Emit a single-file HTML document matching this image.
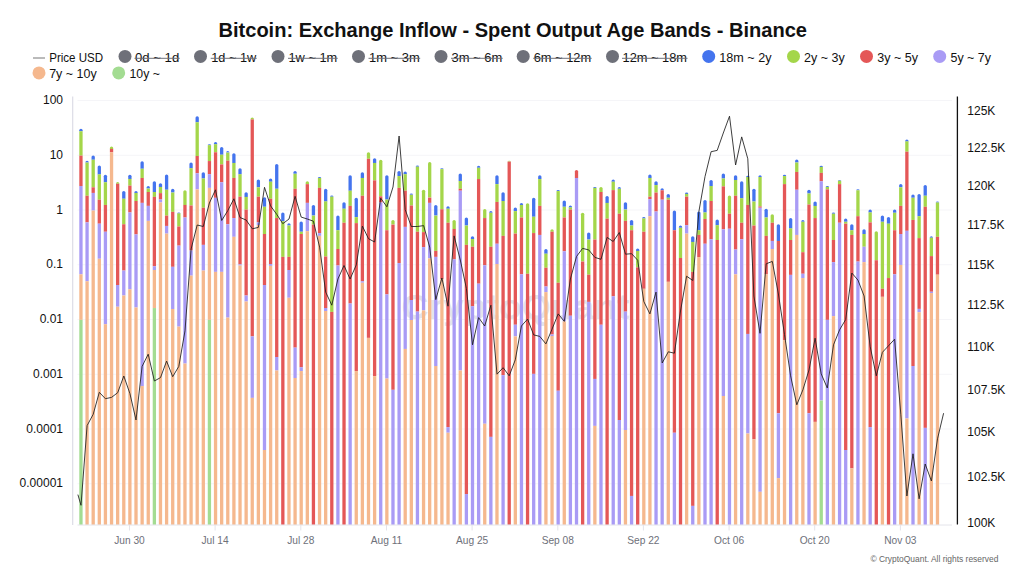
<!DOCTYPE html>
<html><head><meta charset="utf-8"><title>Bitcoin: Exchange Inflow - Spent Output Age Bands - Binance</title>
<style>
html,body{margin:0;padding:0;background:#fff;}
body{width:1024px;height:576px;overflow:hidden;font-family:"Liberation Sans",sans-serif;}
svg{display:block;}
text{font-family:"Liberation Sans",sans-serif;}
.ax{font-size:12px;fill:#111;}
.xl{font-size:10.2px;fill:#6e7079;}
.lg{font-size:12px;fill:#111;}
.ttl{font-size:20px;font-weight:bold;fill:#111;}
.cp{font-size:8.6px;fill:#666;}
</style></head><body>
<svg width="1024" height="576" viewBox="0 0 1024 576">
<rect width="1024" height="576" fill="#fff"/>
<text x="218.5" y="36.8" class="ttl" textLength="588.5" lengthAdjust="spacingAndGlyphs">Bitcoin: Exchange Inflow - Spent Output Age Bands - Binance</text>
<line x1="33" x2="45" y1="58" y2="58" stroke="#777" stroke-width="1"/>
<text x="49.2" y="61.8" class="lg" textLength="54" lengthAdjust="spacingAndGlyphs">Price USD</text>
<circle cx="125" cy="56.4" r="6.5" fill="#6e7079"/>
<text x="135" y="61.8" class="lg" fill="#6e7079" textLength="44.2" lengthAdjust="spacingAndGlyphs">0d ~ 1d</text>
<line x1="134.5" x2="179.7" y1="58.3" y2="58.3" stroke="#6e7079" stroke-width="1"/>
<circle cx="200.5" cy="56.4" r="6.5" fill="#6e7079"/>
<text x="211.2" y="61.8" class="lg" fill="#6e7079" textLength="45.0" lengthAdjust="spacingAndGlyphs">1d ~ 1w</text>
<line x1="210.7" x2="256.7" y1="58.3" y2="58.3" stroke="#6e7079" stroke-width="1"/>
<circle cx="278" cy="56.4" r="6.5" fill="#6e7079"/>
<text x="288.5" y="61.8" class="lg" fill="#6e7079" textLength="48.7" lengthAdjust="spacingAndGlyphs">1w ~ 1m</text>
<line x1="288.0" x2="337.7" y1="58.3" y2="58.3" stroke="#6e7079" stroke-width="1"/>
<circle cx="358.5" cy="56.4" r="6.5" fill="#6e7079"/>
<text x="369" y="61.8" class="lg" fill="#6e7079" textLength="50.7" lengthAdjust="spacingAndGlyphs">1m ~ 3m</text>
<line x1="368.5" x2="420.2" y1="58.3" y2="58.3" stroke="#6e7079" stroke-width="1"/>
<circle cx="441" cy="56.4" r="6.5" fill="#6e7079"/>
<text x="451.5" y="61.8" class="lg" fill="#6e7079" textLength="50.7" lengthAdjust="spacingAndGlyphs">3m ~ 6m</text>
<line x1="451.0" x2="502.7" y1="58.3" y2="58.3" stroke="#6e7079" stroke-width="1"/>
<circle cx="523.2" cy="56.4" r="6.5" fill="#6e7079"/>
<text x="533.7" y="61.8" class="lg" fill="#6e7079" textLength="57.5" lengthAdjust="spacingAndGlyphs">6m ~ 12m</text>
<line x1="533.2" x2="591.7" y1="58.3" y2="58.3" stroke="#6e7079" stroke-width="1"/>
<circle cx="612.5" cy="56.4" r="6.5" fill="#6e7079"/>
<text x="622.5" y="61.8" class="lg" fill="#6e7079" textLength="64.5" lengthAdjust="spacingAndGlyphs">12m ~ 18m</text>
<line x1="622.0" x2="687.5" y1="58.3" y2="58.3" stroke="#6e7079" stroke-width="1"/>
<circle cx="708.7" cy="56.4" r="6.5" fill="#4474ee"/>
<text x="719.3" y="61.8" class="lg" textLength="52.2" lengthAdjust="spacingAndGlyphs">18m ~ 2y</text>
<circle cx="793.5" cy="56.4" r="6.5" fill="#a4d64a"/>
<text x="804" y="61.8" class="lg" textLength="40.7" lengthAdjust="spacingAndGlyphs">2y ~ 3y</text>
<circle cx="866.5" cy="56.4" r="6.5" fill="#e45757"/>
<text x="877.2" y="61.8" class="lg" textLength="40.8" lengthAdjust="spacingAndGlyphs">3y ~ 5y</text>
<circle cx="939.7" cy="56.4" r="6.5" fill="#a99bf5"/>
<text x="950.5" y="61.8" class="lg" textLength="40.5" lengthAdjust="spacingAndGlyphs">5y ~ 7y</text>
<circle cx="39" cy="72.9" r="6.5" fill="#f5b88e"/>
<text x="49.2" y="78.3" class="lg" textLength="47.5" lengthAdjust="spacingAndGlyphs">7y ~ 10y</text>
<circle cx="118.7" cy="72.9" r="6.5" fill="#a3dc92"/>
<text x="129.5" y="78.3" class="lg" textLength="30.5" lengthAdjust="spacingAndGlyphs">10y ~</text>
<line x1="77.5" x2="952" y1="100.50" y2="100.50" stroke="#f5f5f8" stroke-width="1"/>
<line x1="77.5" x2="952" y1="155.25" y2="155.25" stroke="#f5f5f8" stroke-width="1"/>
<line x1="77.5" x2="952" y1="210.00" y2="210.00" stroke="#f5f5f8" stroke-width="1"/>
<line x1="77.5" x2="952" y1="264.75" y2="264.75" stroke="#f5f5f8" stroke-width="1"/>
<line x1="77.5" x2="952" y1="319.50" y2="319.50" stroke="#f5f5f8" stroke-width="1"/>
<line x1="77.5" x2="952" y1="374.25" y2="374.25" stroke="#f5f5f8" stroke-width="1"/>
<line x1="77.5" x2="952" y1="429.00" y2="429.00" stroke="#f5f5f8" stroke-width="1"/>
<line x1="77.5" x2="952" y1="483.75" y2="483.75" stroke="#f5f5f8" stroke-width="1"/>
<text x="401.5" y="318.8" textLength="228" lengthAdjust="spacingAndGlyphs" style="font-size:35px;font-weight:bold" fill="#e3e4eb">CryptoQuant</text>
<path d="M79.30,131.25V130.31Q79.30,128.81 80.95,128.81Q82.60,128.81 82.60,130.31V131.25Z" fill="#4474ee"/>
<rect x="79.30" y="131.25" width="3.3" height="24.38" fill="#a4d64a"/>
<rect x="79.30" y="155.62" width="3.3" height="30.38" fill="#e45757"/>
<rect x="79.30" y="186.00" width="3.3" height="88.31" fill="#a99bf5"/>
<rect x="79.30" y="274.31" width="3.3" height="45.56" fill="#f5b88e"/>
<rect x="79.30" y="319.88" width="3.3" height="205.02" fill="#a3dc92"/>
<path d="M85.42,162.56V162.19Q85.42,160.69 87.07,160.69Q88.72,160.69 88.72,162.19V162.56Z" fill="#4474ee"/>
<rect x="85.42" y="162.56" width="3.3" height="33.19" fill="#a4d64a"/>
<rect x="85.42" y="195.75" width="3.3" height="26.62" fill="#e45757"/>
<rect x="85.42" y="222.38" width="3.3" height="58.88" fill="#a99bf5"/>
<rect x="85.42" y="281.25" width="3.3" height="243.65" fill="#f5b88e"/>
<path d="M91.54,159.75V157.12Q91.54,155.62 93.19,155.62Q94.84,155.62 94.84,157.12V159.75Z" fill="#4474ee"/>
<rect x="91.54" y="159.75" width="3.3" height="27.56" fill="#a4d64a"/>
<rect x="91.54" y="187.31" width="3.3" height="5.62" fill="#e45757"/>
<rect x="91.54" y="192.94" width="3.3" height="17.62" fill="#a99bf5"/>
<rect x="91.54" y="210.56" width="3.3" height="314.34" fill="#f5b88e"/>
<path d="M97.65,174.38V166.88Q97.65,165.38 99.30,165.38Q100.95,165.38 100.95,166.88V174.38Z" fill="#4474ee"/>
<rect x="97.65" y="174.38" width="3.3" height="25.31" fill="#a4d64a"/>
<rect x="97.65" y="199.69" width="3.3" height="24.00" fill="#e45757"/>
<rect x="97.65" y="223.69" width="3.3" height="35.06" fill="#a99bf5"/>
<rect x="97.65" y="258.75" width="3.3" height="266.15" fill="#f5b88e"/>
<path d="M103.77,182.25V176.25Q103.77,174.75 105.42,174.75Q107.07,174.75 107.07,176.25V182.25Z" fill="#4474ee"/>
<rect x="103.77" y="182.25" width="3.3" height="22.69" fill="#a4d64a"/>
<rect x="103.77" y="204.94" width="3.3" height="26.81" fill="#e45757"/>
<rect x="103.77" y="231.75" width="3.3" height="92.44" fill="#a99bf5"/>
<rect x="103.77" y="324.19" width="3.3" height="200.71" fill="#f5b88e"/>
<path d="M109.89,148.88V148.12Q109.89,146.62 111.54,146.62Q113.19,146.62 113.19,148.12V148.88Z" fill="#a4d64a"/>
<rect x="109.89" y="148.88" width="3.3" height="3.38" fill="#e45757"/>
<rect x="109.89" y="152.25" width="3.3" height="372.65" fill="#f5b88e"/>
<path d="M116.01,183.75V183.38Q116.01,181.88 117.66,181.88Q119.31,181.88 119.31,183.38V183.75Z" fill="#a4d64a"/>
<rect x="116.01" y="183.75" width="3.3" height="101.25" fill="#e45757"/>
<rect x="116.01" y="285.00" width="3.3" height="21.75" fill="#a99bf5"/>
<rect x="116.01" y="306.75" width="3.3" height="218.15" fill="#f5b88e"/>
<path d="M122.13,198.75V192.56Q122.13,191.06 123.78,191.06Q125.43,191.06 125.43,192.56V198.75Z" fill="#4474ee"/>
<rect x="122.13" y="198.75" width="3.3" height="25.50" fill="#a4d64a"/>
<rect x="122.13" y="224.25" width="3.3" height="46.31" fill="#e45757"/>
<rect x="122.13" y="270.56" width="3.3" height="24.94" fill="#a99bf5"/>
<rect x="122.13" y="295.50" width="3.3" height="229.40" fill="#f5b88e"/>
<path d="M128.24,178.88V176.25Q128.24,174.75 129.89,174.75Q131.54,174.75 131.54,176.25V178.88Z" fill="#4474ee"/>
<rect x="128.24" y="178.88" width="3.3" height="6.75" fill="#a4d64a"/>
<rect x="128.24" y="185.62" width="3.3" height="26.81" fill="#e45757"/>
<rect x="128.24" y="212.44" width="3.3" height="76.88" fill="#a99bf5"/>
<rect x="128.24" y="289.31" width="3.3" height="235.59" fill="#f5b88e"/>
<path d="M134.36,192.94V192.56Q134.36,191.06 136.01,191.06Q137.66,191.06 137.66,192.56V192.94Z" fill="#4474ee"/>
<rect x="134.36" y="192.94" width="3.3" height="8.06" fill="#a4d64a"/>
<rect x="134.36" y="201.00" width="3.3" height="33.38" fill="#e45757"/>
<rect x="134.36" y="234.38" width="3.3" height="73.12" fill="#a99bf5"/>
<rect x="134.36" y="307.50" width="3.3" height="217.40" fill="#f5b88e"/>
<path d="M140.48,168.75V162.75Q140.48,161.25 142.13,161.25Q143.78,161.25 143.78,162.75V168.75Z" fill="#4474ee"/>
<rect x="140.48" y="168.75" width="3.3" height="9.19" fill="#a4d64a"/>
<rect x="140.48" y="177.94" width="3.3" height="24.94" fill="#e45757"/>
<rect x="140.48" y="202.88" width="3.3" height="183.19" fill="#a99bf5"/>
<rect x="140.48" y="386.06" width="3.3" height="138.84" fill="#f5b88e"/>
<path d="M146.60,188.62V187.50Q146.60,186.00 148.25,186.00Q149.90,186.00 149.90,187.50V188.62Z" fill="#4474ee"/>
<rect x="146.60" y="188.62" width="3.3" height="3.38" fill="#a4d64a"/>
<rect x="146.60" y="192.00" width="3.3" height="13.88" fill="#e45757"/>
<rect x="146.60" y="205.88" width="3.3" height="15.00" fill="#a99bf5"/>
<rect x="146.60" y="220.88" width="3.3" height="304.02" fill="#f5b88e"/>
<path d="M152.72,192.00V182.81Q152.72,181.31 154.37,181.31Q156.02,181.31 156.02,182.81V192.00Z" fill="#4474ee"/>
<rect x="152.72" y="192.00" width="3.3" height="4.88" fill="#a4d64a"/>
<rect x="152.72" y="196.88" width="3.3" height="69.38" fill="#e45757"/>
<rect x="152.72" y="266.25" width="3.3" height="3.75" fill="#a99bf5"/>
<rect x="152.72" y="270.00" width="3.3" height="38.06" fill="#f5b88e"/>
<rect x="152.72" y="308.06" width="3.3" height="216.84" fill="#a3dc92"/>
<path d="M158.83,186.94V184.69Q158.83,183.19 160.48,183.19Q162.13,183.19 162.13,184.69V186.94Z" fill="#4474ee"/>
<rect x="158.83" y="186.94" width="3.3" height="6.19" fill="#a4d64a"/>
<rect x="158.83" y="193.12" width="3.3" height="6.38" fill="#e45757"/>
<rect x="158.83" y="199.50" width="3.3" height="3.00" fill="#a99bf5"/>
<rect x="158.83" y="202.50" width="3.3" height="322.40" fill="#f5b88e"/>
<path d="M164.95,189.75V175.88Q164.95,174.38 166.60,174.38Q168.25,174.38 168.25,175.88V189.75Z" fill="#4474ee"/>
<rect x="164.95" y="189.75" width="3.3" height="25.88" fill="#a4d64a"/>
<rect x="164.95" y="215.62" width="3.3" height="10.31" fill="#e45757"/>
<rect x="164.95" y="225.94" width="3.3" height="7.69" fill="#a99bf5"/>
<rect x="164.95" y="233.62" width="3.3" height="291.27" fill="#f5b88e"/>
<path d="M171.07,192.56V190.31Q171.07,188.81 172.72,188.81Q174.37,188.81 174.37,190.31V192.56Z" fill="#4474ee"/>
<rect x="171.07" y="192.56" width="3.3" height="19.31" fill="#a4d64a"/>
<rect x="171.07" y="211.88" width="3.3" height="54.94" fill="#e45757"/>
<rect x="171.07" y="266.81" width="3.3" height="42.19" fill="#a99bf5"/>
<rect x="171.07" y="309.00" width="3.3" height="215.90" fill="#f5b88e"/>
<path d="M177.19,213.38V213.38Q177.19,212.44 178.84,212.44Q180.49,212.44 180.49,213.38V213.38Z" fill="#4474ee"/>
<rect x="177.19" y="213.38" width="3.3" height="13.12" fill="#a4d64a"/>
<rect x="177.19" y="226.50" width="3.3" height="19.12" fill="#e45757"/>
<rect x="177.19" y="245.62" width="3.3" height="81.00" fill="#a99bf5"/>
<rect x="177.19" y="326.62" width="3.3" height="198.27" fill="#f5b88e"/>
<path d="M183.31,204.94V191.81Q183.31,190.31 184.96,190.31Q186.61,190.31 186.61,191.81V204.94Z" fill="#a4d64a"/>
<rect x="183.31" y="204.94" width="3.3" height="12.56" fill="#e45757"/>
<rect x="183.31" y="217.50" width="3.3" height="146.06" fill="#a99bf5"/>
<rect x="183.31" y="363.56" width="3.3" height="161.34" fill="#f5b88e"/>
<path d="M189.42,168.19V164.06Q189.42,162.56 191.07,162.56Q192.72,162.56 192.72,164.06V168.19Z" fill="#4474ee"/>
<rect x="189.42" y="168.19" width="3.3" height="37.31" fill="#a4d64a"/>
<rect x="189.42" y="205.50" width="3.3" height="45.00" fill="#e45757"/>
<rect x="189.42" y="250.50" width="3.3" height="25.12" fill="#a99bf5"/>
<rect x="189.42" y="275.62" width="3.3" height="249.27" fill="#f5b88e"/>
<path d="M195.54,122.25V117.75Q195.54,116.25 197.19,116.25Q198.84,116.25 198.84,117.75V122.25Z" fill="#4474ee"/>
<rect x="195.54" y="122.25" width="3.3" height="33.75" fill="#a4d64a"/>
<rect x="195.54" y="156.00" width="3.3" height="17.25" fill="#e45757"/>
<rect x="195.54" y="173.25" width="3.3" height="16.12" fill="#a99bf5"/>
<rect x="195.54" y="189.38" width="3.3" height="335.52" fill="#f5b88e"/>
<path d="M201.66,178.50V173.81Q201.66,172.31 203.31,172.31Q204.96,172.31 204.96,173.81V178.50Z" fill="#4474ee"/>
<rect x="201.66" y="178.50" width="3.3" height="29.25" fill="#a4d64a"/>
<rect x="201.66" y="207.75" width="3.3" height="37.12" fill="#e45757"/>
<rect x="201.66" y="244.88" width="3.3" height="25.69" fill="#a99bf5"/>
<rect x="201.66" y="270.56" width="3.3" height="254.34" fill="#f5b88e"/>
<path d="M207.78,145.12V145.12Q207.78,144.19 209.43,144.19Q211.08,144.19 211.08,145.12V145.12Z" fill="#4474ee"/>
<rect x="207.78" y="145.12" width="3.3" height="15.94" fill="#a4d64a"/>
<rect x="207.78" y="161.06" width="3.3" height="13.12" fill="#e45757"/>
<rect x="207.78" y="174.19" width="3.3" height="13.69" fill="#a99bf5"/>
<rect x="207.78" y="187.88" width="3.3" height="132.00" fill="#f5b88e"/>
<rect x="207.78" y="319.88" width="3.3" height="205.02" fill="#a3dc92"/>
<path d="M213.90,144.19V143.44Q213.90,141.94 215.55,141.94Q217.20,141.94 217.20,143.44V144.19Z" fill="#4474ee"/>
<rect x="213.90" y="144.19" width="3.3" height="8.06" fill="#a4d64a"/>
<rect x="213.90" y="152.25" width="3.3" height="45.56" fill="#e45757"/>
<rect x="213.90" y="197.81" width="3.3" height="74.06" fill="#a99bf5"/>
<rect x="213.90" y="271.88" width="3.3" height="253.02" fill="#f5b88e"/>
<path d="M220.01,154.69V148.50Q220.01,147.00 221.66,147.00Q223.31,147.00 223.31,148.50V154.69Z" fill="#4474ee"/>
<rect x="220.01" y="154.69" width="3.3" height="9.75" fill="#a4d64a"/>
<rect x="220.01" y="164.44" width="3.3" height="17.81" fill="#e45757"/>
<rect x="220.01" y="182.25" width="3.3" height="89.62" fill="#a99bf5"/>
<rect x="220.01" y="271.88" width="3.3" height="253.02" fill="#f5b88e"/>
<path d="M226.13,152.62V152.44Q226.13,150.94 227.78,150.94Q229.43,150.94 229.43,152.44V152.62Z" fill="#4474ee"/>
<rect x="226.13" y="152.62" width="3.3" height="8.06" fill="#a4d64a"/>
<rect x="226.13" y="160.69" width="3.3" height="63.56" fill="#e45757"/>
<rect x="226.13" y="224.25" width="3.3" height="93.38" fill="#a99bf5"/>
<rect x="226.13" y="317.62" width="3.3" height="207.27" fill="#f5b88e"/>
<path d="M232.25,162.94V154.69Q232.25,153.19 233.90,153.19Q235.55,153.19 235.55,154.69V162.94Z" fill="#4474ee"/>
<rect x="232.25" y="162.94" width="3.3" height="15.00" fill="#a4d64a"/>
<rect x="232.25" y="177.94" width="3.3" height="40.12" fill="#e45757"/>
<rect x="232.25" y="218.06" width="3.3" height="18.75" fill="#a99bf5"/>
<rect x="232.25" y="236.81" width="3.3" height="288.09" fill="#f5b88e"/>
<path d="M238.37,174.19V169.69Q238.37,168.19 240.02,168.19Q241.67,168.19 241.67,169.69V174.19Z" fill="#4474ee"/>
<rect x="238.37" y="174.19" width="3.3" height="22.50" fill="#a4d64a"/>
<rect x="238.37" y="196.69" width="3.3" height="67.69" fill="#e45757"/>
<rect x="238.37" y="264.38" width="3.3" height="1.12" fill="#a99bf5"/>
<rect x="238.37" y="265.50" width="3.3" height="259.40" fill="#f5b88e"/>
<path d="M244.49,196.88V193.69Q244.49,192.19 246.14,192.19Q247.79,192.19 247.79,193.69V196.88Z" fill="#4474ee"/>
<rect x="244.49" y="196.88" width="3.3" height="12.75" fill="#a4d64a"/>
<rect x="244.49" y="209.62" width="3.3" height="85.88" fill="#e45757"/>
<rect x="244.49" y="295.50" width="3.3" height="6.00" fill="#a99bf5"/>
<rect x="244.49" y="301.50" width="3.3" height="223.40" fill="#f5b88e"/>
<path d="M250.60,119.44V119.06Q250.60,117.56 252.25,117.56Q253.90,117.56 253.90,119.06V119.44Z" fill="#a4d64a"/>
<rect x="250.60" y="119.44" width="3.3" height="216.94" fill="#e45757"/>
<rect x="250.60" y="336.38" width="3.3" height="61.50" fill="#a99bf5"/>
<rect x="250.60" y="397.88" width="3.3" height="127.02" fill="#f5b88e"/>
<path d="M256.72,187.31V180.94Q256.72,179.44 258.37,179.44Q260.02,179.44 260.02,180.94V187.31Z" fill="#4474ee"/>
<rect x="256.72" y="187.31" width="3.3" height="9.38" fill="#a4d64a"/>
<rect x="256.72" y="196.69" width="3.3" height="25.69" fill="#e45757"/>
<rect x="256.72" y="222.38" width="3.3" height="2.62" fill="#a99bf5"/>
<rect x="256.72" y="225.00" width="3.3" height="299.90" fill="#f5b88e"/>
<path d="M262.84,206.81V198.75Q262.84,197.25 264.49,197.25Q266.14,197.25 266.14,198.75V206.81Z" fill="#4474ee"/>
<rect x="262.84" y="206.81" width="3.3" height="27.19" fill="#a4d64a"/>
<rect x="262.84" y="234.00" width="3.3" height="51.00" fill="#e45757"/>
<rect x="262.84" y="285.00" width="3.3" height="165.00" fill="#a99bf5"/>
<rect x="262.84" y="450.00" width="3.3" height="74.90" fill="#f5b88e"/>
<path d="M268.96,181.69V180.00Q268.96,178.50 270.61,178.50Q272.26,178.50 272.26,180.00V181.69Z" fill="#4474ee"/>
<rect x="268.96" y="181.69" width="3.3" height="17.06" fill="#a4d64a"/>
<rect x="268.96" y="198.75" width="3.3" height="65.25" fill="#e45757"/>
<rect x="268.96" y="264.00" width="3.3" height="1.88" fill="#a99bf5"/>
<rect x="268.96" y="265.88" width="3.3" height="259.02" fill="#f5b88e"/>
<path d="M275.08,188.81V165.56Q275.08,164.06 276.73,164.06Q278.38,164.06 278.38,165.56V188.81Z" fill="#4474ee"/>
<rect x="275.08" y="188.81" width="3.3" height="29.25" fill="#a4d64a"/>
<rect x="275.08" y="218.06" width="3.3" height="138.94" fill="#e45757"/>
<rect x="275.08" y="357.00" width="3.3" height="13.50" fill="#a99bf5"/>
<rect x="275.08" y="370.50" width="3.3" height="154.40" fill="#f5b88e"/>
<path d="M281.19,221.25V213.94Q281.19,212.44 282.84,212.44Q284.49,212.44 284.49,213.94V221.25Z" fill="#4474ee"/>
<rect x="281.19" y="221.25" width="3.3" height="35.62" fill="#a4d64a"/>
<rect x="281.19" y="256.88" width="3.3" height="268.02" fill="#e45757"/>
<path d="M287.31,225.56V224.81Q287.31,223.31 288.96,223.31Q290.61,223.31 290.61,224.81V225.56Z" fill="#4474ee"/>
<rect x="287.31" y="225.56" width="3.3" height="31.31" fill="#a4d64a"/>
<rect x="287.31" y="256.88" width="3.3" height="13.12" fill="#e45757"/>
<rect x="287.31" y="270.00" width="3.3" height="27.75" fill="#a99bf5"/>
<rect x="287.31" y="297.75" width="3.3" height="227.15" fill="#f5b88e"/>
<path d="M293.43,173.81V172.50Q293.43,171.00 295.08,171.00Q296.73,171.00 296.73,172.50V173.81Z" fill="#4474ee"/>
<rect x="293.43" y="173.81" width="3.3" height="15.00" fill="#a4d64a"/>
<rect x="293.43" y="188.81" width="3.3" height="158.81" fill="#e45757"/>
<rect x="293.43" y="347.62" width="3.3" height="30.38" fill="#a99bf5"/>
<rect x="293.43" y="378.00" width="3.3" height="146.90" fill="#f5b88e"/>
<path d="M299.55,231.75V222.94Q299.55,221.44 301.20,221.44Q302.85,221.44 302.85,222.94V231.75Z" fill="#4474ee"/>
<rect x="299.55" y="231.75" width="3.3" height="2.25" fill="#a4d64a"/>
<rect x="299.55" y="234.00" width="3.3" height="133.31" fill="#e45757"/>
<rect x="299.55" y="367.31" width="3.3" height="3.75" fill="#a99bf5"/>
<rect x="299.55" y="371.06" width="3.3" height="153.84" fill="#f5b88e"/>
<path d="M305.67,184.12V182.81Q305.67,181.31 307.32,181.31Q308.97,181.31 308.97,182.81V184.12Z" fill="#a4d64a"/>
<rect x="305.67" y="184.12" width="3.3" height="18.75" fill="#e45757"/>
<rect x="305.67" y="202.88" width="3.3" height="28.31" fill="#a99bf5"/>
<rect x="305.67" y="231.19" width="3.3" height="293.71" fill="#f5b88e"/>
<path d="M311.78,215.62V206.44Q311.78,204.94 313.43,204.94Q315.08,204.94 315.08,206.44V215.62Z" fill="#4474ee"/>
<rect x="311.78" y="215.62" width="3.3" height="9.00" fill="#a4d64a"/>
<rect x="311.78" y="224.62" width="3.3" height="300.27" fill="#e45757"/>
<path d="M317.90,177.94V177.94Q317.90,177.00 319.55,177.00Q321.20,177.00 321.20,177.94V177.94Z" fill="#4474ee"/>
<rect x="317.90" y="177.94" width="3.3" height="9.94" fill="#a4d64a"/>
<rect x="317.90" y="187.88" width="3.3" height="45.19" fill="#e45757"/>
<rect x="317.90" y="233.06" width="3.3" height="2.81" fill="#a99bf5"/>
<rect x="317.90" y="235.88" width="3.3" height="289.02" fill="#f5b88e"/>
<path d="M324.02,201.38V190.31Q324.02,188.81 325.67,188.81Q327.32,188.81 327.32,190.31V201.38Z" fill="#4474ee"/>
<rect x="324.02" y="201.38" width="3.3" height="55.12" fill="#a4d64a"/>
<rect x="324.02" y="256.50" width="3.3" height="51.50" fill="#e45757"/>
<rect x="324.02" y="308.00" width="3.3" height="3.00" fill="#a99bf5"/>
<rect x="324.02" y="311.00" width="3.3" height="213.90" fill="#f5b88e"/>
<path d="M330.14,196.69V196.69Q330.14,195.38 331.79,195.38Q333.44,195.38 333.44,196.69V196.69Z" fill="#4474ee"/>
<rect x="330.14" y="196.69" width="3.3" height="115.21" fill="#a4d64a"/>
<rect x="330.14" y="311.90" width="3.3" height="213.00" fill="#e45757"/>
<path d="M336.26,230.25V217.12Q336.26,215.62 337.91,215.62Q339.56,215.62 339.56,217.12V230.25Z" fill="#4474ee"/>
<rect x="336.26" y="230.25" width="3.3" height="18.75" fill="#a4d64a"/>
<rect x="336.26" y="249.00" width="3.3" height="16.50" fill="#e45757"/>
<rect x="336.26" y="265.50" width="3.3" height="259.40" fill="#a99bf5"/>
<path d="M342.37,208.69V203.81Q342.37,202.31 344.02,202.31Q345.67,202.31 345.67,203.81V208.69Z" fill="#4474ee"/>
<rect x="342.37" y="208.69" width="3.3" height="14.06" fill="#a4d64a"/>
<rect x="342.37" y="222.75" width="3.3" height="302.15" fill="#e45757"/>
<path d="M348.49,190.69V176.81Q348.49,175.31 350.14,175.31Q351.79,175.31 351.79,176.81V190.69Z" fill="#4474ee"/>
<rect x="348.49" y="190.69" width="3.3" height="15.19" fill="#a4d64a"/>
<rect x="348.49" y="205.88" width="3.3" height="97.62" fill="#e45757"/>
<rect x="348.49" y="303.50" width="3.3" height="221.40" fill="#a99bf5"/>
<path d="M354.61,217.12V199.31Q354.61,197.81 356.26,197.81Q357.91,197.81 357.91,199.31V217.12Z" fill="#4474ee"/>
<rect x="354.61" y="217.12" width="3.3" height="6.00" fill="#a4d64a"/>
<rect x="354.61" y="223.12" width="3.3" height="147.94" fill="#e45757"/>
<rect x="354.61" y="371.06" width="3.3" height="153.84" fill="#f5b88e"/>
<path d="M360.73,177.94V173.81Q360.73,172.31 362.38,172.31Q364.03,172.31 364.03,173.81V177.94Z" fill="#4474ee"/>
<rect x="360.73" y="177.94" width="3.3" height="17.81" fill="#a4d64a"/>
<rect x="360.73" y="195.75" width="3.3" height="85.50" fill="#e45757"/>
<rect x="360.73" y="281.25" width="3.3" height="1.50" fill="#a99bf5"/>
<rect x="360.73" y="282.75" width="3.3" height="242.15" fill="#f5b88e"/>
<path d="M366.85,158.81V153.75Q366.85,152.25 368.50,152.25Q370.15,152.25 370.15,153.75V158.81Z" fill="#a4d64a"/>
<rect x="366.85" y="158.81" width="3.3" height="179.06" fill="#e45757"/>
<rect x="366.85" y="337.88" width="3.3" height="187.02" fill="#f5b88e"/>
<path d="M372.96,162.94V159.75Q372.96,158.25 374.61,158.25Q376.26,158.25 376.26,159.75V162.94Z" fill="#4474ee"/>
<rect x="372.96" y="162.94" width="3.3" height="17.44" fill="#a4d64a"/>
<rect x="372.96" y="180.38" width="3.3" height="195.75" fill="#e45757"/>
<rect x="372.96" y="376.12" width="3.3" height="148.77" fill="#f5b88e"/>
<path d="M379.08,196.31V161.25Q379.08,159.75 380.73,159.75Q382.38,159.75 382.38,161.25V196.31Z" fill="#a4d64a"/>
<rect x="379.08" y="196.31" width="3.3" height="6.19" fill="#e45757"/>
<rect x="379.08" y="202.50" width="3.3" height="322.40" fill="#a99bf5"/>
<path d="M385.20,199.50V176.81Q385.20,175.31 386.85,175.31Q388.50,175.31 388.50,176.81V199.50Z" fill="#4474ee"/>
<rect x="385.20" y="199.50" width="3.3" height="30.75" fill="#a4d64a"/>
<rect x="385.20" y="230.25" width="3.3" height="64.12" fill="#e45757"/>
<rect x="385.20" y="294.38" width="3.3" height="84.19" fill="#a99bf5"/>
<rect x="385.20" y="378.56" width="3.3" height="146.34" fill="#f5b88e"/>
<path d="M391.32,224.62V221.44Q391.32,219.94 392.97,219.94Q394.62,219.94 394.62,221.44V224.62Z" fill="#a4d64a"/>
<rect x="391.32" y="224.62" width="3.3" height="165.19" fill="#e45757"/>
<rect x="391.32" y="389.81" width="3.3" height="135.09" fill="#a99bf5"/>
<path d="M397.44,176.06V172.50Q397.44,171.00 399.09,171.00Q400.74,171.00 400.74,172.50V176.06Z" fill="#4474ee"/>
<rect x="397.44" y="176.06" width="3.3" height="11.81" fill="#a4d64a"/>
<rect x="397.44" y="187.88" width="3.3" height="75.19" fill="#e45757"/>
<rect x="397.44" y="263.06" width="3.3" height="261.84" fill="#a99bf5"/>
<path d="M403.55,174.19V173.06Q403.55,171.56 405.20,171.56Q406.85,171.56 406.85,173.06V174.19Z" fill="#4474ee"/>
<rect x="403.55" y="174.19" width="3.3" height="16.50" fill="#a4d64a"/>
<rect x="403.55" y="190.69" width="3.3" height="36.19" fill="#e45757"/>
<rect x="403.55" y="226.88" width="3.3" height="122.06" fill="#a99bf5"/>
<rect x="403.55" y="348.94" width="3.3" height="175.96" fill="#f5b88e"/>
<path d="M409.67,194.81V194.81Q409.67,193.50 411.32,193.50Q412.97,193.50 412.97,194.81V194.81Z" fill="#4474ee"/>
<rect x="409.67" y="194.81" width="3.3" height="10.69" fill="#a4d64a"/>
<rect x="409.67" y="205.50" width="3.3" height="94.50" fill="#e45757"/>
<rect x="409.67" y="300.00" width="3.3" height="20.00" fill="#a99bf5"/>
<rect x="409.67" y="320.00" width="3.3" height="204.90" fill="#f5b88e"/>
<path d="M415.79,166.69V166.69Q415.79,165.38 417.44,165.38Q419.09,165.38 419.09,166.69V166.69Z" fill="#4474ee"/>
<rect x="415.79" y="166.69" width="3.3" height="65.06" fill="#a4d64a"/>
<rect x="415.79" y="231.75" width="3.3" height="79.85" fill="#e45757"/>
<rect x="415.79" y="311.60" width="3.3" height="213.30" fill="#a99bf5"/>
<path d="M421.91,232.12V191.25Q421.91,189.75 423.56,189.75Q425.21,189.75 425.21,191.25V232.12Z" fill="#a4d64a"/>
<rect x="421.91" y="232.12" width="3.3" height="15.00" fill="#e45757"/>
<rect x="421.91" y="247.12" width="3.3" height="63.27" fill="#a99bf5"/>
<rect x="421.91" y="310.40" width="3.3" height="214.50" fill="#f5b88e"/>
<path d="M428.03,197.62V163.50Q428.03,162.00 429.68,162.00Q431.33,162.00 431.33,163.50V197.62Z" fill="#a4d64a"/>
<rect x="428.03" y="197.62" width="3.3" height="5.25" fill="#e45757"/>
<rect x="428.03" y="202.88" width="3.3" height="55.50" fill="#a99bf5"/>
<rect x="428.03" y="258.38" width="3.3" height="266.52" fill="#f5b88e"/>
<path d="M434.14,215.62V206.44Q434.14,204.94 435.79,204.94Q437.44,204.94 437.44,206.44V215.62Z" fill="#4474ee"/>
<rect x="434.14" y="215.62" width="3.3" height="35.25" fill="#a4d64a"/>
<rect x="434.14" y="250.88" width="3.3" height="6.00" fill="#e45757"/>
<rect x="434.14" y="256.88" width="3.3" height="109.12" fill="#a99bf5"/>
<rect x="434.14" y="366.00" width="3.3" height="158.90" fill="#f5b88e"/>
<path d="M440.26,169.12V169.12Q440.26,168.19 441.91,168.19Q443.56,168.19 443.56,169.12V169.12Z" fill="#4474ee"/>
<rect x="440.26" y="169.12" width="3.3" height="40.12" fill="#a4d64a"/>
<rect x="440.26" y="209.25" width="3.3" height="69.75" fill="#e45757"/>
<rect x="440.26" y="279.00" width="3.3" height="245.90" fill="#f5b88e"/>
<path d="M446.38,208.69V207.75Q446.38,206.25 448.03,206.25Q449.68,206.25 449.68,207.75V208.69Z" fill="#4474ee"/>
<rect x="446.38" y="208.69" width="3.3" height="14.06" fill="#a4d64a"/>
<rect x="446.38" y="222.75" width="3.3" height="204.38" fill="#e45757"/>
<rect x="446.38" y="427.12" width="3.3" height="5.62" fill="#a99bf5"/>
<rect x="446.38" y="432.75" width="3.3" height="92.15" fill="#f5b88e"/>
<path d="M452.50,228.94V221.44Q452.50,219.94 454.15,219.94Q455.80,219.94 455.80,221.44V228.94Z" fill="#a4d64a"/>
<rect x="452.50" y="228.94" width="3.3" height="30.38" fill="#e45757"/>
<rect x="452.50" y="259.31" width="3.3" height="265.59" fill="#a99bf5"/>
<path d="M458.62,180.94V174.94Q458.62,173.44 460.27,173.44Q461.92,173.44 461.92,174.94V180.94Z" fill="#4474ee"/>
<rect x="458.62" y="180.94" width="3.3" height="7.88" fill="#a4d64a"/>
<rect x="458.62" y="188.81" width="3.3" height="1.88" fill="#e45757"/>
<rect x="458.62" y="190.69" width="3.3" height="179.81" fill="#a99bf5"/>
<rect x="458.62" y="370.50" width="3.3" height="154.40" fill="#f5b88e"/>
<path d="M464.73,225.56V219.00Q464.73,217.50 466.38,217.50Q468.03,217.50 468.03,219.00V225.56Z" fill="#4474ee"/>
<rect x="464.73" y="225.56" width="3.3" height="19.31" fill="#a4d64a"/>
<rect x="464.73" y="244.88" width="3.3" height="249.19" fill="#e45757"/>
<rect x="464.73" y="494.06" width="3.3" height="30.84" fill="#a99bf5"/>
<path d="M470.85,239.06V237.75Q470.85,236.25 472.50,236.25Q474.15,236.25 474.15,237.75V239.06Z" fill="#4474ee"/>
<rect x="470.85" y="239.06" width="3.3" height="7.69" fill="#a4d64a"/>
<rect x="470.85" y="246.75" width="3.3" height="59.44" fill="#e45757"/>
<rect x="470.85" y="306.19" width="3.3" height="218.71" fill="#a99bf5"/>
<path d="M476.97,167.81V167.25Q476.97,165.75 478.62,165.75Q480.27,165.75 480.27,167.25V167.81Z" fill="#4474ee"/>
<rect x="476.97" y="167.81" width="3.3" height="11.25" fill="#a4d64a"/>
<rect x="476.97" y="179.06" width="3.3" height="104.62" fill="#e45757"/>
<rect x="476.97" y="283.69" width="3.3" height="241.21" fill="#a99bf5"/>
<path d="M483.09,218.06V210.56Q483.09,209.06 484.74,209.06Q486.39,209.06 486.39,210.56V218.06Z" fill="#a4d64a"/>
<rect x="483.09" y="218.06" width="3.3" height="47.25" fill="#e45757"/>
<rect x="483.09" y="265.31" width="3.3" height="158.44" fill="#a99bf5"/>
<rect x="483.09" y="423.75" width="3.3" height="101.15" fill="#f5b88e"/>
<path d="M489.21,212.81V212.62Q489.21,211.12 490.86,211.12Q492.51,211.12 492.51,212.62V212.81Z" fill="#4474ee"/>
<rect x="489.21" y="212.81" width="3.3" height="33.94" fill="#a4d64a"/>
<rect x="489.21" y="246.75" width="3.3" height="190.12" fill="#e45757"/>
<rect x="489.21" y="436.88" width="3.3" height="88.02" fill="#a99bf5"/>
<path d="M495.32,184.12V176.81Q495.32,175.31 496.97,175.31Q498.62,175.31 498.62,176.81V184.12Z" fill="#4474ee"/>
<rect x="495.32" y="184.12" width="3.3" height="17.81" fill="#a4d64a"/>
<rect x="495.32" y="201.94" width="3.3" height="41.81" fill="#e45757"/>
<rect x="495.32" y="243.75" width="3.3" height="20.25" fill="#a99bf5"/>
<rect x="495.32" y="264.00" width="3.3" height="260.90" fill="#f5b88e"/>
<path d="M501.44,201.00V193.69Q501.44,192.19 503.09,192.19Q504.74,192.19 504.74,193.69V201.00Z" fill="#4474ee"/>
<rect x="501.44" y="201.00" width="3.3" height="34.88" fill="#a4d64a"/>
<rect x="501.44" y="235.88" width="3.3" height="139.31" fill="#e45757"/>
<rect x="501.44" y="375.19" width="3.3" height="149.71" fill="#a99bf5"/>
<path d="M507.56,161.62V161.62Q507.56,160.69 509.21,160.69Q510.86,160.69 510.86,161.62V161.62Z" fill="#a4d64a"/>
<rect x="507.56" y="161.62" width="3.3" height="363.27" fill="#e45757"/>
<path d="M513.68,211.12V208.88Q513.68,207.38 515.33,207.38Q516.98,207.38 516.98,208.88V211.12Z" fill="#4474ee"/>
<rect x="513.68" y="211.12" width="3.3" height="22.50" fill="#a4d64a"/>
<rect x="513.68" y="233.62" width="3.3" height="91.12" fill="#e45757"/>
<rect x="513.68" y="324.75" width="3.3" height="11.62" fill="#a99bf5"/>
<rect x="513.68" y="336.38" width="3.3" height="188.52" fill="#f5b88e"/>
<path d="M519.80,204.94V204.38Q519.80,202.88 521.45,202.88Q523.10,202.88 523.10,204.38V204.94Z" fill="#4474ee"/>
<rect x="519.80" y="204.94" width="3.3" height="12.56" fill="#a4d64a"/>
<rect x="519.80" y="217.50" width="3.3" height="56.81" fill="#e45757"/>
<rect x="519.80" y="274.31" width="3.3" height="250.59" fill="#a99bf5"/>
<path d="M525.91,273.75V204.75Q525.91,203.25 527.56,203.25Q529.21,203.25 529.21,204.75V273.75Z" fill="#a4d64a"/>
<rect x="525.91" y="273.75" width="3.3" height="251.15" fill="#e45757"/>
<path d="M532.03,216.75V199.31Q532.03,197.81 533.68,197.81Q535.33,197.81 535.33,199.31V216.75Z" fill="#4474ee"/>
<rect x="532.03" y="216.75" width="3.3" height="16.31" fill="#a4d64a"/>
<rect x="532.03" y="233.06" width="3.3" height="140.81" fill="#e45757"/>
<rect x="532.03" y="373.88" width="3.3" height="151.02" fill="#a99bf5"/>
<path d="M538.15,179.06V176.81Q538.15,175.31 539.80,175.31Q541.45,175.31 541.45,176.81V179.06Z" fill="#4474ee"/>
<rect x="538.15" y="179.06" width="3.3" height="26.81" fill="#a4d64a"/>
<rect x="538.15" y="205.88" width="3.3" height="29.06" fill="#e45757"/>
<rect x="538.15" y="234.94" width="3.3" height="289.96" fill="#a99bf5"/>
<path d="M544.27,253.69V250.50Q544.27,249.00 545.92,249.00Q547.57,249.00 547.57,250.50V253.69Z" fill="#4474ee"/>
<rect x="544.27" y="253.69" width="3.3" height="14.06" fill="#a4d64a"/>
<rect x="544.27" y="267.75" width="3.3" height="18.75" fill="#e45757"/>
<rect x="544.27" y="286.50" width="3.3" height="5.62" fill="#a99bf5"/>
<rect x="544.27" y="292.12" width="3.3" height="232.77" fill="#f5b88e"/>
<path d="M550.39,231.75V230.81Q550.39,229.31 552.04,229.31Q553.69,229.31 553.69,230.81V231.75Z" fill="#a4d64a"/>
<rect x="550.39" y="231.75" width="3.3" height="102.75" fill="#e45757"/>
<rect x="550.39" y="334.50" width="3.3" height="1.50" fill="#a99bf5"/>
<rect x="550.39" y="336.00" width="3.3" height="188.90" fill="#f5b88e"/>
<path d="M556.50,191.06V191.06Q556.50,190.12 558.15,190.12Q559.80,190.12 559.80,191.06V191.06Z" fill="#4474ee"/>
<rect x="556.50" y="191.06" width="3.3" height="91.69" fill="#a4d64a"/>
<rect x="556.50" y="282.75" width="3.3" height="108.00" fill="#e45757"/>
<rect x="556.50" y="390.75" width="3.3" height="134.15" fill="#a99bf5"/>
<path d="M562.62,206.81V202.12Q562.62,200.62 564.27,200.62Q565.92,200.62 565.92,202.12V206.81Z" fill="#4474ee"/>
<rect x="562.62" y="206.81" width="3.3" height="10.69" fill="#a4d64a"/>
<rect x="562.62" y="217.50" width="3.3" height="33.75" fill="#e45757"/>
<rect x="562.62" y="251.25" width="3.3" height="70.12" fill="#a99bf5"/>
<rect x="562.62" y="321.38" width="3.3" height="203.52" fill="#f5b88e"/>
<path d="M568.74,207.38V207.00Q568.74,205.50 570.39,205.50Q572.04,205.50 572.04,207.00V207.38Z" fill="#4474ee"/>
<rect x="568.74" y="207.38" width="3.3" height="2.25" fill="#a4d64a"/>
<rect x="568.74" y="209.62" width="3.3" height="106.12" fill="#e45757"/>
<rect x="568.74" y="315.75" width="3.3" height="209.15" fill="#a99bf5"/>
<path d="M574.86,177.94V171.56Q574.86,170.06 576.51,170.06Q578.16,170.06 578.16,171.56V177.94Z" fill="#e45757"/>
<rect x="574.86" y="177.94" width="3.3" height="346.96" fill="#a99bf5"/>
<path d="M580.98,261.56V214.31Q580.98,212.81 582.63,212.81Q584.28,212.81 584.28,214.31V261.56Z" fill="#a4d64a"/>
<rect x="580.98" y="261.56" width="3.3" height="263.34" fill="#e45757"/>
<path d="M587.09,239.62V234.00Q587.09,232.50 588.74,232.50Q590.39,232.50 590.39,234.00V239.62Z" fill="#4474ee"/>
<rect x="587.09" y="239.62" width="3.3" height="35.06" fill="#a4d64a"/>
<rect x="587.09" y="274.69" width="3.3" height="27.19" fill="#e45757"/>
<rect x="587.09" y="301.88" width="3.3" height="223.02" fill="#a99bf5"/>
<path d="M593.21,187.88V187.88Q593.21,186.94 594.86,186.94Q596.51,186.94 596.51,187.88V187.88Z" fill="#4474ee"/>
<rect x="593.21" y="187.88" width="3.3" height="51.75" fill="#a4d64a"/>
<rect x="593.21" y="239.62" width="3.3" height="139.31" fill="#e45757"/>
<rect x="593.21" y="378.94" width="3.3" height="46.96" fill="#a99bf5"/>
<rect x="593.21" y="425.90" width="3.3" height="99.00" fill="#f5b88e"/>
<path d="M599.33,192.00V188.44Q599.33,186.94 600.98,186.94Q602.63,186.94 602.63,188.44V192.00Z" fill="#a4d64a"/>
<rect x="599.33" y="192.00" width="3.3" height="132.75" fill="#e45757"/>
<rect x="599.33" y="324.75" width="3.3" height="200.15" fill="#a99bf5"/>
<path d="M605.45,202.88V197.44Q605.45,195.94 607.10,195.94Q608.75,195.94 608.75,197.44V202.88Z" fill="#4474ee"/>
<rect x="605.45" y="202.88" width="3.3" height="15.75" fill="#a4d64a"/>
<rect x="605.45" y="218.62" width="3.3" height="306.27" fill="#e45757"/>
<path d="M611.57,181.69V180.94Q611.57,179.44 613.22,179.44Q614.87,179.44 614.87,180.94V181.69Z" fill="#4474ee"/>
<rect x="611.57" y="181.69" width="3.3" height="8.44" fill="#a4d64a"/>
<rect x="611.57" y="190.12" width="3.3" height="106.18" fill="#e45757"/>
<rect x="611.57" y="296.30" width="3.3" height="228.60" fill="#a99bf5"/>
<path d="M617.68,188.81V188.44Q617.68,186.94 619.33,186.94Q620.98,186.94 620.98,188.44V188.81Z" fill="#4474ee"/>
<rect x="617.68" y="188.81" width="3.3" height="24.94" fill="#a4d64a"/>
<rect x="617.68" y="213.75" width="3.3" height="206.25" fill="#e45757"/>
<rect x="617.68" y="420.00" width="3.3" height="104.90" fill="#a99bf5"/>
<path d="M623.80,209.62V203.81Q623.80,202.31 625.45,202.31Q627.10,202.31 627.10,203.81V209.62Z" fill="#4474ee"/>
<rect x="623.80" y="209.62" width="3.3" height="11.25" fill="#a4d64a"/>
<rect x="623.80" y="220.88" width="3.3" height="90.73" fill="#e45757"/>
<rect x="623.80" y="311.60" width="3.3" height="118.40" fill="#a99bf5"/>
<rect x="623.80" y="430.00" width="3.3" height="94.90" fill="#f5b88e"/>
<path d="M629.92,225.56V221.44Q629.92,219.94 631.57,219.94Q633.22,219.94 633.22,221.44V225.56Z" fill="#4474ee"/>
<rect x="629.92" y="225.56" width="3.3" height="4.69" fill="#a4d64a"/>
<rect x="629.92" y="230.25" width="3.3" height="265.69" fill="#e45757"/>
<rect x="629.92" y="495.94" width="3.3" height="28.96" fill="#a99bf5"/>
<path d="M636.04,250.88V250.12Q636.04,248.62 637.69,248.62Q639.34,248.62 639.34,250.12V250.88Z" fill="#4474ee"/>
<rect x="636.04" y="250.88" width="3.3" height="16.50" fill="#a4d64a"/>
<rect x="636.04" y="267.38" width="3.3" height="257.52" fill="#e45757"/>
<path d="M642.16,218.44V218.44Q642.16,217.12 643.81,217.12Q645.46,217.12 645.46,218.44V218.44Z" fill="#4474ee"/>
<rect x="642.16" y="218.44" width="3.3" height="13.31" fill="#a4d64a"/>
<rect x="642.16" y="231.75" width="3.3" height="57.05" fill="#e45757"/>
<rect x="642.16" y="288.80" width="3.3" height="236.10" fill="#f5b88e"/>
<path d="M648.27,177.94V175.88Q648.27,174.38 649.92,174.38Q651.57,174.38 651.57,175.88V177.94Z" fill="#4474ee"/>
<rect x="648.27" y="177.94" width="3.3" height="18.75" fill="#a4d64a"/>
<rect x="648.27" y="196.69" width="3.3" height="2.44" fill="#e45757"/>
<rect x="648.27" y="199.12" width="3.3" height="17.06" fill="#a99bf5"/>
<rect x="648.27" y="216.19" width="3.3" height="308.71" fill="#f5b88e"/>
<path d="M654.39,185.06V182.81Q654.39,181.31 656.04,181.31Q657.69,181.31 657.69,182.81V185.06Z" fill="#4474ee"/>
<rect x="654.39" y="185.06" width="3.3" height="7.50" fill="#a4d64a"/>
<rect x="654.39" y="192.56" width="3.3" height="18.94" fill="#e45757"/>
<rect x="654.39" y="211.50" width="3.3" height="313.40" fill="#a99bf5"/>
<path d="M660.51,190.31V189.75Q660.51,188.25 662.16,188.25Q663.81,188.25 663.81,189.75V190.31Z" fill="#4474ee"/>
<rect x="660.51" y="190.31" width="3.3" height="9.38" fill="#e45757"/>
<rect x="660.51" y="199.69" width="3.3" height="325.21" fill="#a99bf5"/>
<path d="M666.63,197.81V195.56Q666.63,194.06 668.28,194.06Q669.93,194.06 669.93,195.56V197.81Z" fill="#4474ee"/>
<rect x="666.63" y="197.81" width="3.3" height="1.88" fill="#a4d64a"/>
<rect x="666.63" y="199.69" width="3.3" height="82.12" fill="#e45757"/>
<rect x="666.63" y="281.81" width="3.3" height="243.09" fill="#f5b88e"/>
<path d="M672.75,230.25V212.06Q672.75,210.56 674.40,210.56Q676.05,210.56 676.05,212.06V230.25Z" fill="#4474ee"/>
<rect x="672.75" y="230.25" width="3.3" height="202.50" fill="#e45757"/>
<rect x="672.75" y="432.75" width="3.3" height="92.15" fill="#a99bf5"/>
<path d="M678.86,227.81V227.06Q678.86,225.56 680.51,225.56Q682.16,225.56 682.16,227.06V227.81Z" fill="#4474ee"/>
<rect x="678.86" y="227.81" width="3.3" height="30.19" fill="#a4d64a"/>
<rect x="678.86" y="258.00" width="3.3" height="266.90" fill="#e45757"/>
<path d="M684.98,193.88V193.88Q684.98,192.56 686.63,192.56Q688.28,192.56 688.28,193.88V193.88Z" fill="#4474ee"/>
<rect x="684.98" y="193.88" width="3.3" height="2.81" fill="#a4d64a"/>
<rect x="684.98" y="196.69" width="3.3" height="28.50" fill="#e45757"/>
<rect x="684.98" y="225.19" width="3.3" height="8.44" fill="#a99bf5"/>
<rect x="684.98" y="233.62" width="3.3" height="291.27" fill="#f5b88e"/>
<path d="M691.10,241.88V237.75Q691.10,236.25 692.75,236.25Q694.40,236.25 694.40,237.75V241.88Z" fill="#4474ee"/>
<rect x="691.10" y="241.88" width="3.3" height="30.00" fill="#a4d64a"/>
<rect x="691.10" y="271.88" width="3.3" height="234.00" fill="#e45757"/>
<rect x="691.10" y="505.88" width="3.3" height="19.02" fill="#a99bf5"/>
<path d="M697.22,230.25V213.00Q697.22,211.50 698.87,211.50Q700.52,211.50 700.52,213.00V230.25Z" fill="#4474ee"/>
<rect x="697.22" y="230.25" width="3.3" height="4.69" fill="#a4d64a"/>
<rect x="697.22" y="234.94" width="3.3" height="22.12" fill="#e45757"/>
<rect x="697.22" y="257.06" width="3.3" height="267.84" fill="#f5b88e"/>
<path d="M703.34,212.44V201.56Q703.34,200.06 704.99,200.06Q706.64,200.06 706.64,201.56V212.44Z" fill="#4474ee"/>
<rect x="703.34" y="212.44" width="3.3" height="6.56" fill="#a4d64a"/>
<rect x="703.34" y="219.00" width="3.3" height="24.75" fill="#e45757"/>
<rect x="703.34" y="243.75" width="3.3" height="281.15" fill="#a99bf5"/>
<path d="M709.45,186.00V181.50Q709.45,180.00 711.10,180.00Q712.75,180.00 712.75,181.50V186.00Z" fill="#4474ee"/>
<rect x="709.45" y="186.00" width="3.3" height="15.00" fill="#a4d64a"/>
<rect x="709.45" y="201.00" width="3.3" height="38.25" fill="#e45757"/>
<rect x="709.45" y="239.25" width="3.3" height="285.65" fill="#a99bf5"/>
<path d="M715.57,225.19V220.88Q715.57,219.38 717.22,219.38Q718.87,219.38 718.87,220.88V225.19Z" fill="#4474ee"/>
<rect x="715.57" y="225.19" width="3.3" height="14.81" fill="#a4d64a"/>
<rect x="715.57" y="240.00" width="3.3" height="284.90" fill="#e45757"/>
<path d="M721.69,178.50V174.94Q721.69,173.44 723.34,173.44Q724.99,173.44 724.99,174.94V178.50Z" fill="#4474ee"/>
<rect x="721.69" y="178.50" width="3.3" height="7.88" fill="#a4d64a"/>
<rect x="721.69" y="186.38" width="3.3" height="42.94" fill="#e45757"/>
<rect x="721.69" y="229.31" width="3.3" height="166.69" fill="#a99bf5"/>
<rect x="721.69" y="396.00" width="3.3" height="128.90" fill="#f5b88e"/>
<path d="M727.81,213.75V196.88Q727.81,195.38 729.46,195.38Q731.11,195.38 731.11,196.88V213.75Z" fill="#a4d64a"/>
<rect x="727.81" y="213.75" width="3.3" height="15.00" fill="#e45757"/>
<rect x="727.81" y="228.75" width="3.3" height="296.15" fill="#a99bf5"/>
<path d="M733.93,180.00V176.81Q733.93,175.31 735.58,175.31Q737.23,175.31 737.23,176.81V180.00Z" fill="#4474ee"/>
<rect x="733.93" y="180.00" width="3.3" height="15.75" fill="#a4d64a"/>
<rect x="733.93" y="195.75" width="3.3" height="53.81" fill="#e45757"/>
<rect x="733.93" y="249.56" width="3.3" height="24.75" fill="#a99bf5"/>
<rect x="733.93" y="274.31" width="3.3" height="250.59" fill="#f5b88e"/>
<path d="M740.04,198.19V182.81Q740.04,181.31 741.69,181.31Q743.34,181.31 743.34,182.81V198.19Z" fill="#4474ee"/>
<rect x="740.04" y="198.19" width="3.3" height="24.56" fill="#a4d64a"/>
<rect x="740.04" y="222.75" width="3.3" height="16.50" fill="#e45757"/>
<rect x="740.04" y="239.25" width="3.3" height="285.65" fill="#a99bf5"/>
<path d="M746.16,177.00V177.00Q746.16,175.69 747.81,175.69Q749.46,175.69 749.46,177.00V177.00Z" fill="#4474ee"/>
<rect x="746.16" y="177.00" width="3.3" height="27.94" fill="#a4d64a"/>
<rect x="746.16" y="204.94" width="3.3" height="129.00" fill="#e45757"/>
<rect x="746.16" y="333.94" width="3.3" height="99.56" fill="#a99bf5"/>
<rect x="746.16" y="433.50" width="3.3" height="91.40" fill="#f5b88e"/>
<path d="M752.28,201.56V190.31Q752.28,188.81 753.93,188.81Q755.58,188.81 755.58,190.31V201.56Z" fill="#4474ee"/>
<rect x="752.28" y="201.56" width="3.3" height="24.00" fill="#a4d64a"/>
<rect x="752.28" y="225.56" width="3.3" height="213.75" fill="#e45757"/>
<rect x="752.28" y="439.31" width="3.3" height="85.59" fill="#f5b88e"/>
<path d="M758.40,177.00V176.81Q758.40,175.31 760.05,175.31Q761.70,175.31 761.70,176.81V177.00Z" fill="#4474ee"/>
<rect x="758.40" y="177.00" width="3.3" height="29.44" fill="#a4d64a"/>
<rect x="758.40" y="206.44" width="3.3" height="1.31" fill="#e45757"/>
<rect x="758.40" y="207.75" width="3.3" height="284.06" fill="#a99bf5"/>
<rect x="758.40" y="491.81" width="3.3" height="33.09" fill="#f5b88e"/>
<path d="M764.52,217.50V210.19Q764.52,208.69 766.17,208.69Q767.82,208.69 767.82,210.19V217.50Z" fill="#4474ee"/>
<rect x="764.52" y="217.50" width="3.3" height="18.38" fill="#a4d64a"/>
<rect x="764.52" y="235.88" width="3.3" height="38.44" fill="#e45757"/>
<rect x="764.52" y="274.31" width="3.3" height="250.59" fill="#f5b88e"/>
<path d="M770.63,222.75V215.81Q770.63,214.31 772.28,214.31Q773.93,214.31 773.93,215.81V222.75Z" fill="#a4d64a"/>
<rect x="770.63" y="222.75" width="3.3" height="18.19" fill="#e45757"/>
<rect x="770.63" y="240.94" width="3.3" height="8.06" fill="#a99bf5"/>
<rect x="770.63" y="249.00" width="3.3" height="275.90" fill="#f5b88e"/>
<path d="M776.75,240.94V225.75Q776.75,224.25 778.40,224.25Q780.05,224.25 780.05,225.75V240.94Z" fill="#4474ee"/>
<rect x="776.75" y="240.94" width="3.3" height="172.31" fill="#e45757"/>
<rect x="776.75" y="413.25" width="3.3" height="64.88" fill="#a99bf5"/>
<rect x="776.75" y="478.12" width="3.3" height="46.77" fill="#f5b88e"/>
<path d="M782.87,176.06V176.06Q782.87,174.75 784.52,174.75Q786.17,174.75 786.17,176.06V176.06Z" fill="#4474ee"/>
<rect x="782.87" y="176.06" width="3.3" height="8.06" fill="#a4d64a"/>
<rect x="782.87" y="184.12" width="3.3" height="156.00" fill="#e45757"/>
<rect x="782.87" y="340.12" width="3.3" height="184.77" fill="#f5b88e"/>
<path d="M788.99,228.38V219.56Q788.99,218.06 790.64,218.06Q792.29,218.06 792.29,219.56V228.38Z" fill="#4474ee"/>
<rect x="788.99" y="228.38" width="3.3" height="11.62" fill="#a4d64a"/>
<rect x="788.99" y="240.00" width="3.3" height="34.88" fill="#e45757"/>
<rect x="788.99" y="274.88" width="3.3" height="250.02" fill="#a99bf5"/>
<path d="M795.11,162.56V160.88Q795.11,159.38 796.76,159.38Q798.41,159.38 798.41,160.88V162.56Z" fill="#4474ee"/>
<rect x="795.11" y="162.56" width="3.3" height="9.38" fill="#a4d64a"/>
<rect x="795.11" y="171.94" width="3.3" height="17.81" fill="#e45757"/>
<rect x="795.11" y="189.75" width="3.3" height="45.19" fill="#a99bf5"/>
<rect x="795.11" y="234.94" width="3.3" height="289.96" fill="#f5b88e"/>
<path d="M801.22,221.81V221.44Q801.22,219.94 802.87,219.94Q804.52,219.94 804.52,221.44V221.81Z" fill="#4474ee"/>
<rect x="801.22" y="221.81" width="3.3" height="30.38" fill="#a4d64a"/>
<rect x="801.22" y="252.19" width="3.3" height="21.56" fill="#e45757"/>
<rect x="801.22" y="273.75" width="3.3" height="4.31" fill="#a99bf5"/>
<rect x="801.22" y="278.06" width="3.3" height="246.84" fill="#f5b88e"/>
<path d="M807.34,193.50V191.25Q807.34,189.75 808.99,189.75Q810.64,189.75 810.64,191.25V193.50Z" fill="#4474ee"/>
<rect x="807.34" y="193.50" width="3.3" height="11.06" fill="#a4d64a"/>
<rect x="807.34" y="204.56" width="3.3" height="208.69" fill="#e45757"/>
<rect x="807.34" y="413.25" width="3.3" height="111.65" fill="#a99bf5"/>
<path d="M813.46,205.88V203.06Q813.46,201.56 815.11,201.56Q816.76,201.56 816.76,203.06V205.88Z" fill="#4474ee"/>
<rect x="813.46" y="205.88" width="3.3" height="12.19" fill="#a4d64a"/>
<rect x="813.46" y="218.06" width="3.3" height="203.81" fill="#e45757"/>
<rect x="813.46" y="421.88" width="3.3" height="103.02" fill="#f5b88e"/>
<path d="M819.58,166.88V166.88Q819.58,165.75 821.23,165.75Q822.88,165.75 822.88,166.88V166.88Z" fill="#4474ee"/>
<rect x="819.58" y="166.88" width="3.3" height="6.00" fill="#a4d64a"/>
<rect x="819.58" y="172.88" width="3.3" height="8.44" fill="#e45757"/>
<rect x="819.58" y="181.31" width="3.3" height="219.19" fill="#a99bf5"/>
<rect x="819.58" y="400.50" width="3.3" height="124.40" fill="#a3dc92"/>
<path d="M825.70,186.94V186.94Q825.70,186.00 827.35,186.00Q829.00,186.00 829.00,186.94V186.94Z" fill="#4474ee"/>
<rect x="825.70" y="186.94" width="3.3" height="2.44" fill="#a4d64a"/>
<rect x="825.70" y="189.38" width="3.3" height="130.50" fill="#e45757"/>
<rect x="825.70" y="319.88" width="3.3" height="205.02" fill="#a99bf5"/>
<path d="M831.81,213.75V213.75Q831.81,212.44 833.46,212.44Q835.11,212.44 835.11,213.75V213.75Z" fill="#4474ee"/>
<rect x="831.81" y="213.75" width="3.3" height="26.25" fill="#a4d64a"/>
<rect x="831.81" y="240.00" width="3.3" height="22.12" fill="#e45757"/>
<rect x="831.81" y="262.12" width="3.3" height="54.00" fill="#a99bf5"/>
<rect x="831.81" y="316.12" width="3.3" height="208.77" fill="#f5b88e"/>
<path d="M837.93,180.75V180.75Q837.93,180.00 839.58,180.00Q841.23,180.00 841.23,180.75V180.75Z" fill="#4474ee"/>
<rect x="837.93" y="180.75" width="3.3" height="3.38" fill="#a4d64a"/>
<rect x="837.93" y="184.12" width="3.3" height="38.62" fill="#e45757"/>
<rect x="837.93" y="222.75" width="3.3" height="302.15" fill="#a99bf5"/>
<path d="M844.05,221.81V219.94Q844.05,218.44 845.70,218.44Q847.35,218.44 847.35,219.94V221.81Z" fill="#4474ee"/>
<rect x="844.05" y="221.81" width="3.3" height="1.88" fill="#a4d64a"/>
<rect x="844.05" y="223.69" width="3.3" height="226.31" fill="#e45757"/>
<rect x="844.05" y="450.00" width="3.3" height="74.90" fill="#a99bf5"/>
<path d="M850.17,230.25V225.75Q850.17,224.25 851.82,224.25Q853.47,224.25 853.47,225.75V230.25Z" fill="#4474ee"/>
<rect x="850.17" y="230.25" width="3.3" height="4.69" fill="#a4d64a"/>
<rect x="850.17" y="234.94" width="3.3" height="233.44" fill="#e45757"/>
<rect x="850.17" y="468.38" width="3.3" height="56.52" fill="#f5b88e"/>
<path d="M856.29,190.31V190.31Q856.29,189.19 857.94,189.19Q859.59,189.19 859.59,190.31V190.31Z" fill="#4474ee"/>
<rect x="856.29" y="190.31" width="3.3" height="25.88" fill="#a4d64a"/>
<rect x="856.29" y="216.19" width="3.3" height="45.38" fill="#e45757"/>
<rect x="856.29" y="261.56" width="3.3" height="263.34" fill="#a99bf5"/>
<path d="M862.40,234.00V230.81Q862.40,229.31 864.05,229.31Q865.70,229.31 865.70,230.81V234.00Z" fill="#4474ee"/>
<rect x="862.40" y="234.00" width="3.3" height="12.75" fill="#a4d64a"/>
<rect x="862.40" y="246.75" width="3.3" height="15.38" fill="#a99bf5"/>
<rect x="862.40" y="262.12" width="3.3" height="262.77" fill="#f5b88e"/>
<path d="M868.52,212.44V211.12Q868.52,209.62 870.17,209.62Q871.82,209.62 871.82,211.12V212.44Z" fill="#4474ee"/>
<rect x="868.52" y="212.44" width="3.3" height="9.94" fill="#a4d64a"/>
<rect x="868.52" y="222.38" width="3.3" height="204.75" fill="#e45757"/>
<rect x="868.52" y="427.12" width="3.3" height="97.77" fill="#a99bf5"/>
<path d="M874.64,260.25V232.69Q874.64,231.19 876.29,231.19Q877.94,231.19 877.94,232.69V260.25Z" fill="#a4d64a"/>
<rect x="874.64" y="260.25" width="3.3" height="264.65" fill="#e45757"/>
<path d="M880.76,221.81V217.12Q880.76,215.62 882.41,215.62Q884.06,215.62 884.06,217.12V221.81Z" fill="#4474ee"/>
<rect x="880.76" y="221.81" width="3.3" height="66.94" fill="#a4d64a"/>
<rect x="880.76" y="288.75" width="3.3" height="8.06" fill="#e45757"/>
<rect x="880.76" y="296.81" width="3.3" height="228.09" fill="#f5b88e"/>
<path d="M886.88,223.69V218.62Q886.88,217.12 888.53,217.12Q890.18,217.12 890.18,218.62V223.69Z" fill="#4474ee"/>
<rect x="886.88" y="223.69" width="3.3" height="54.38" fill="#a4d64a"/>
<rect x="886.88" y="278.06" width="3.3" height="246.84" fill="#e45757"/>
<path d="M892.99,212.81V211.12Q892.99,209.62 894.64,209.62Q896.29,209.62 896.29,211.12V212.81Z" fill="#4474ee"/>
<rect x="892.99" y="212.81" width="3.3" height="17.44" fill="#a4d64a"/>
<rect x="892.99" y="230.25" width="3.3" height="44.06" fill="#e45757"/>
<rect x="892.99" y="274.31" width="3.3" height="250.59" fill="#a99bf5"/>
<path d="M899.11,187.31V185.62Q899.11,184.12 900.76,184.12Q902.41,184.12 902.41,185.62V187.31Z" fill="#4474ee"/>
<rect x="899.11" y="187.31" width="3.3" height="18.56" fill="#a4d64a"/>
<rect x="899.11" y="205.88" width="3.3" height="28.12" fill="#e45757"/>
<rect x="899.11" y="234.00" width="3.3" height="30.94" fill="#a99bf5"/>
<rect x="899.11" y="264.94" width="3.3" height="259.96" fill="#f5b88e"/>
<path d="M905.23,141.38V141.00Q905.23,139.50 906.88,139.50Q908.53,139.50 908.53,141.00V141.38Z" fill="#4474ee"/>
<rect x="905.23" y="141.38" width="3.3" height="10.31" fill="#a4d64a"/>
<rect x="905.23" y="151.69" width="3.3" height="79.12" fill="#e45757"/>
<rect x="905.23" y="230.81" width="3.3" height="187.69" fill="#a99bf5"/>
<rect x="905.23" y="418.50" width="3.3" height="106.40" fill="#f5b88e"/>
<path d="M911.35,197.81V195.94Q911.35,194.44 913.00,194.44Q914.65,194.44 914.65,195.94V197.81Z" fill="#4474ee"/>
<rect x="911.35" y="197.81" width="3.3" height="22.12" fill="#a4d64a"/>
<rect x="911.35" y="219.94" width="3.3" height="146.06" fill="#e45757"/>
<rect x="911.35" y="366.00" width="3.3" height="158.90" fill="#a99bf5"/>
<path d="M917.47,216.19V195.38Q917.47,193.88 919.12,193.88Q920.77,193.88 920.77,195.38V216.19Z" fill="#4474ee"/>
<rect x="917.47" y="216.19" width="3.3" height="21.94" fill="#a4d64a"/>
<rect x="917.47" y="238.12" width="3.3" height="70.77" fill="#e45757"/>
<rect x="917.47" y="308.90" width="3.3" height="3.30" fill="#a99bf5"/>
<rect x="917.47" y="312.20" width="3.3" height="212.70" fill="#f5b88e"/>
<path d="M923.58,195.75V186.56Q923.58,185.06 925.23,185.06Q926.88,185.06 926.88,186.56V195.75Z" fill="#4474ee"/>
<rect x="923.58" y="195.75" width="3.3" height="11.06" fill="#a4d64a"/>
<rect x="923.58" y="206.81" width="3.3" height="221.06" fill="#e45757"/>
<rect x="923.58" y="427.88" width="3.3" height="97.02" fill="#a99bf5"/>
<path d="M929.70,237.75V237.75Q929.70,236.25 931.35,236.25Q933.00,236.25 933.00,237.75V237.75Z" fill="#4474ee"/>
<rect x="929.70" y="237.75" width="3.3" height="18.38" fill="#a4d64a"/>
<rect x="929.70" y="256.12" width="3.3" height="35.62" fill="#e45757"/>
<rect x="929.70" y="291.75" width="3.3" height="1.31" fill="#a99bf5"/>
<rect x="929.70" y="293.06" width="3.3" height="231.84" fill="#f5b88e"/>
<path d="M935.82,202.50V202.50Q935.82,201.38 937.47,201.38Q939.12,201.38 939.12,202.50V202.50Z" fill="#4474ee"/>
<rect x="935.82" y="202.50" width="3.3" height="34.31" fill="#a4d64a"/>
<rect x="935.82" y="236.81" width="3.3" height="37.88" fill="#e45757"/>
<rect x="935.82" y="274.69" width="3.3" height="250.21" fill="#f5b88e"/>
<polyline fill="none" stroke="#1c1c1c" stroke-width="0.85" stroke-linejoin="miter" points="77.9,494.6 81.0,505.3 87.1,425.6 93.2,414.3 99.3,392.3 105.4,398.7 111.5,397.4 117.7,392.7 123.8,376.0 129.9,393.5 136.0,420.0 142.1,366.4 148.2,354.2 154.4,381.0 160.5,377.6 166.6,361.1 172.7,376.7 178.8,366.4 185.0,330.8 191.1,249.0 197.2,225.0 203.3,226.5 209.4,203.0 215.5,189.8 221.7,220.5 227.8,210.6 233.9,198.8 240.0,217.5 246.1,220.0 252.3,228.8 258.4,227.4 264.5,187.3 270.6,205.9 276.7,214.3 282.8,223.7 289.0,219.0 295.1,196.3 301.2,217.1 307.3,219.0 313.4,221.2 319.6,247.1 325.7,292.1 331.8,305.2 337.9,279.0 344.0,265.5 350.1,279.0 356.3,264.9 362.4,226.1 368.5,238.7 374.6,242.0 380.7,198.2 386.9,206.8 393.0,187.0 399.1,136.0 405.2,209.6 411.3,226.5 417.4,226.5 423.6,225.6 429.7,247.1 435.8,299.6 441.9,278.0 448.0,306.2 454.1,235.9 460.3,260.0 466.4,288.4 472.5,344.8 478.6,317.6 484.7,326.0 490.9,305.2 497.0,374.2 503.1,367.7 509.2,375.8 515.3,359.8 521.4,326.0 527.6,319.1 533.7,334.9 539.8,336.4 545.9,343.9 552.0,329.2 558.2,313.9 564.3,321.4 570.4,279.0 576.5,256.5 582.6,248.4 588.7,249.9 594.9,257.4 601.0,259.3 607.1,237.4 613.2,241.5 619.3,232.5 625.5,254.2 631.6,253.7 637.7,260.2 643.8,301.5 649.9,313.9 656.0,292.1 662.2,363.0 668.3,351.8 674.4,353.2 680.5,311.0 686.6,276.2 692.8,280.5 698.9,211.5 705.0,176.6 711.1,151.7 717.2,150.4 723.3,133.0 729.5,116.2 735.6,165.0 741.7,136.9 747.8,158.8 753.9,296.0 760.0,333.3 766.2,263.8 772.3,261.4 778.4,294.0 784.5,334.5 790.6,375.8 796.8,404.8 802.9,389.8 809.0,370.0 815.1,338.2 821.2,373.9 827.3,388.0 833.5,344.8 839.6,329.8 845.7,319.5 851.8,273.0 857.9,280.0 864.1,296.0 870.2,346.7 876.3,375.8 882.4,352.3 888.5,345.8 894.6,339.2 900.8,414.2 906.9,496.0 913.0,453.8 919.1,498.8 925.2,464.0 931.4,481.0 937.5,438.8 943.6,413.2"/>
<line x1="72.7" x2="72.7" y1="96.5" y2="525" stroke="#dcdce6" stroke-width="1.2"/>
<line x1="77.5" x2="952" y1="525" y2="525" stroke="#e4e4ea" stroke-width="1"/>
<line x1="957.4" x2="957.4" y1="96.5" y2="524.6" stroke="#111" stroke-width="1.3"/>
<text x="63" y="104.2" text-anchor="end" class="ax">100</text>
<text x="63" y="158.9" text-anchor="end" class="ax">10</text>
<text x="63" y="213.7" text-anchor="end" class="ax">1</text>
<text x="63" y="268.4" text-anchor="end" class="ax">0.1</text>
<text x="63" y="323.2" text-anchor="end" class="ax">0.01</text>
<text x="63" y="377.9" text-anchor="end" class="ax">0.001</text>
<text x="63" y="432.7" text-anchor="end" class="ax">0.0001</text>
<text x="63" y="487.4" text-anchor="end" class="ax">0.00001</text>
<text x="967.3" y="114.8" class="ax">125K</text>
<text x="967.3" y="152.2" class="ax">122.5K</text>
<text x="967.3" y="190.2" class="ax">120K</text>
<text x="967.3" y="228.8" class="ax">117.5K</text>
<text x="967.3" y="268.6" class="ax">115K</text>
<text x="967.3" y="309.2" class="ax">112.5K</text>
<text x="967.3" y="350.9" class="ax">110K</text>
<text x="967.3" y="393.5" class="ax">107.5K</text>
<text x="967.3" y="436.4" class="ax">105K</text>
<text x="967.3" y="481.4" class="ax">102.5K</text>
<text x="967.3" y="526.5" class="ax">100K</text>
<line x1="129.5" x2="129.5" y1="525" y2="530.5" stroke="#e4e4ea" stroke-width="1"/>
<text x="129.5" y="543.8" text-anchor="middle" class="xl">Jun 30</text>
<line x1="215.1" x2="215.1" y1="525" y2="530.5" stroke="#e4e4ea" stroke-width="1"/>
<text x="215.1" y="543.8" text-anchor="middle" class="xl">Jul 14</text>
<line x1="300.8" x2="300.8" y1="525" y2="530.5" stroke="#e4e4ea" stroke-width="1"/>
<text x="300.8" y="543.8" text-anchor="middle" class="xl">Jul 28</text>
<line x1="386.5" x2="386.5" y1="525" y2="530.5" stroke="#e4e4ea" stroke-width="1"/>
<text x="386.5" y="543.8" text-anchor="middle" class="xl">Aug 11</text>
<line x1="472.1" x2="472.1" y1="525" y2="530.5" stroke="#e4e4ea" stroke-width="1"/>
<text x="472.1" y="543.8" text-anchor="middle" class="xl">Aug 25</text>
<line x1="557.8" x2="557.8" y1="525" y2="530.5" stroke="#e4e4ea" stroke-width="1"/>
<text x="557.8" y="543.8" text-anchor="middle" class="xl">Sep 08</text>
<line x1="643.4" x2="643.4" y1="525" y2="530.5" stroke="#e4e4ea" stroke-width="1"/>
<text x="643.4" y="543.8" text-anchor="middle" class="xl">Sep 22</text>
<line x1="729.1" x2="729.1" y1="525" y2="530.5" stroke="#e4e4ea" stroke-width="1"/>
<text x="729.1" y="543.8" text-anchor="middle" class="xl">Oct 06</text>
<line x1="814.7" x2="814.7" y1="525" y2="530.5" stroke="#e4e4ea" stroke-width="1"/>
<text x="814.7" y="543.8" text-anchor="middle" class="xl">Oct 20</text>
<line x1="900.4" x2="900.4" y1="525" y2="530.5" stroke="#e4e4ea" stroke-width="1"/>
<text x="900.4" y="543.8" text-anchor="middle" class="xl">Nov 03</text>

<text x="870.4" y="562" class="cp" textLength="128" lengthAdjust="spacingAndGlyphs">© CryptoQuant. All rights reserved</text>
</svg>
</body></html>
